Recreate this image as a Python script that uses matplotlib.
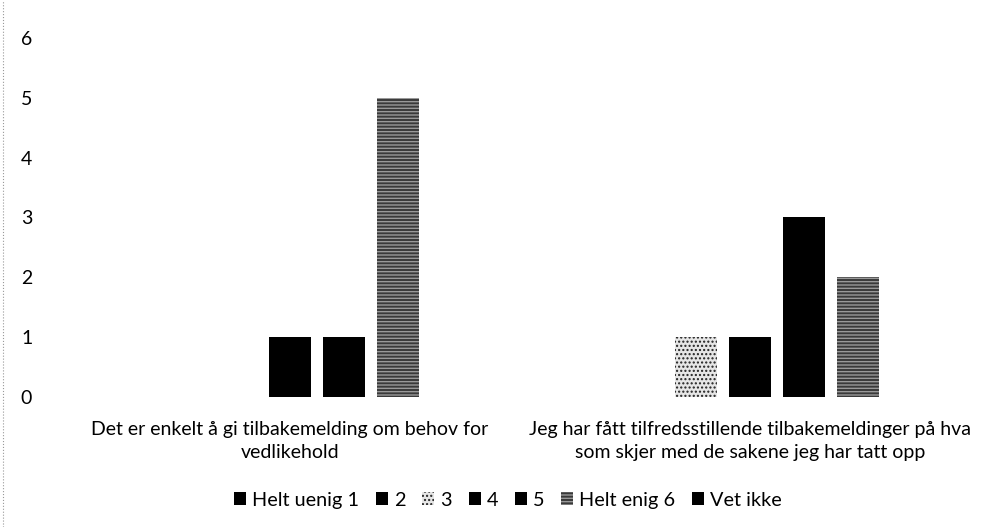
import matplotlib.pyplot as plt
import numpy as np

plt.rcParams['font.family'] = ['Lato', 'DejaVu Sans']

categories = ['Det er enkelt å gi tilbakemelding om behov for\nvedlikehold',
              'Jeg har fått tilfredsstillende tilbakemeldinger på hva\nsom skjer med de sakene jeg har tatt opp']
series = ['Helt uenig 1', '2', '3', '4', '5', 'Helt enig 6', 'Vet ikke']
values = [[0, 0],
          [0, 0],
          [0, 1],
          [1, 1],
          [1, 3],
          [5, 2],
          [0, 0]]
y_ticks = [0, 1, 2, 3, 4, 5, 6]

styles = [dict(color='black'),
          dict(color='black'),
          dict(facecolor='#e6e6e6', edgecolor='#222222', hatch='....', linewidth=0),
          dict(color='black'),
          dict(color='black'),
          dict(facecolor='#3a3a3a', edgecolor='#999999', hatch='-----', linewidth=0),
          dict(color='black')]

fig = plt.figure(figsize=(10, 5.27), dpi=100)
ax = fig.add_axes([0.06, 0.2467, 0.92, 0.6813])

x = np.arange(len(categories))
pitch = 0.1174
width = 0.0913
for i, name in enumerate(series):
    ax.bar(x + (i - 3) * pitch, values[i], width, label=name, **styles[i])

ax.set_xlim(-0.5, 1.5)
ax.set_ylim(0, 6)
ax.set_yticks(y_ticks)
ax.set_xticks(x)
ax.set_xticklabels(categories, fontsize=14.3, linespacing=1.45)
ax.tick_params(length=0, labelsize=14)
ax.tick_params(axis='x', pad=17)
ax.tick_params(axis='y', pad=20)
for s in ax.spines.values():
    s.set_visible(False)

fig.legend(loc='center', bbox_to_anchor=(0.508, 0.051), ncol=7, frameon=False,
           fontsize=14.3, handlelength=0.6, handleheight=0.6, handletextpad=0.3,
           columnspacing=0.85)

fig.add_artist(plt.Line2D([0.003, 0.003], [0.0, 1.0], color='#999999', lw=0.8,
                          linestyle=':'))

plt.savefig('out.png')
